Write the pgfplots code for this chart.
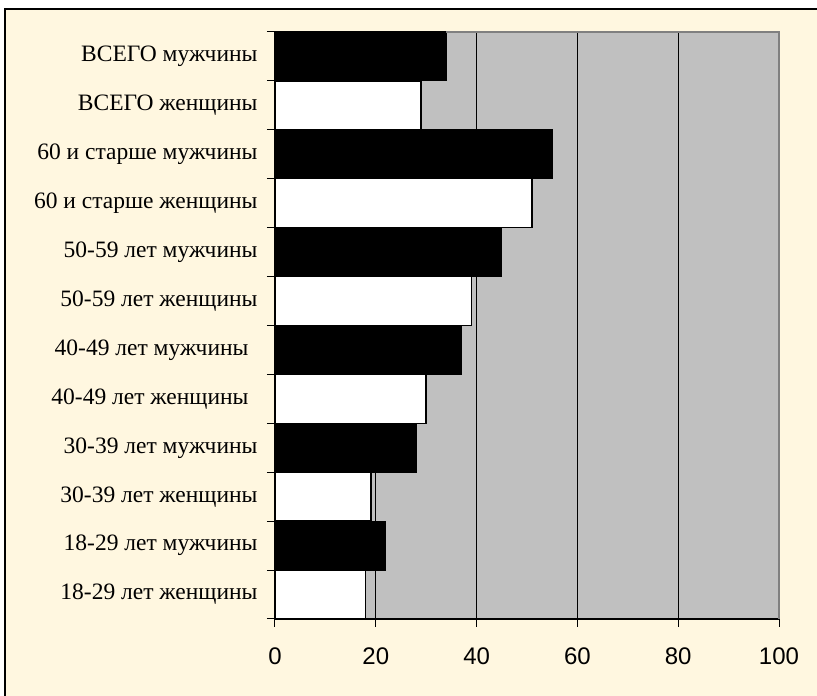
\documentclass[border=0pt]{standalone}
\usepackage{pgfplots}
\pgfplotsset{compat=1.18}
\usepackage{fontspec}
\setmainfont{Liberation Serif}
\newfontfamily\arial{Liberation Sans}
\definecolor{cream}{RGB}{255,247,224}
\definecolor{plotgrey}{RGB}{192,192,192}
\definecolor{shadowgrey}{RGB}{128,128,128}

\begin{document}
\begin{tikzpicture}[x=1pt,y=1pt]
\path[use as bounding box] (0,0) rectangle (817,696);
\fill[white] (0,0) rectangle (817,696);
\fill[cream] (5,0) rectangle (817,687);
\draw[line width=2pt] (5,0) -- (5,687) -- (817,687);
\begin{axis}[
  at={(275pt,77pt)}, anchor=south west,
  scale only axis, width=504pt, height=587pt,
  xmin=0, xmax=100, ymin=0.5, ymax=12.5,
  clip=false,
  axis background/.style={fill=plotgrey},
  axis x line*=bottom, axis y line*=left,
  axis line style={black, line width=1.5pt},
  tick align=outside, major tick length=8pt,
  tick style={black, line width=1pt},
  xtick={0,20,40,60,80,100},
  xmajorgrids, major grid style={black, line width=0.8pt},
  xticklabel style={font=\arial\fontsize{24}{28}\selectfont, yshift=-17pt},
  /pgf/number format/assume math mode=true,
  ytick={0.5,1.5,...,12.5},
  yticklabels={18-29 лет женщины, 18-29 лет мужчины,
    30-39 лет женщины, 30-39 лет мужчины,
    40-49 лет женщины\kern9pt, 40-49 лет мужчины\kern9pt,
    50-59 лет женщины, 50-59 лет мужчины,
    60 и старше женщины, 60 и старше мужчины,
    ВСЕГО женщины, ВСЕГО мужчины, {}},
  yticklabel style={font=\fontsize{23.5}{28}\selectfont, yshift=24.46pt, xshift=-6pt},
]
\addplot[xbar, bar width=1, bar shift=0pt, fill=black, draw=black, line width=1pt]
  coordinates {(34,12) (55,10) (45,8) (37,6) (28,4) (22,2)};
\addplot[xbar, bar width=1, bar shift=0pt, fill=white, draw=black, line width=1.5pt]
  coordinates {(29,11) (51,9) (39,7) (30,5) (19,3) (18,1)};
\draw[shadowgrey, line width=2.5pt] (axis cs:34,12.5) -- (axis cs:100,12.5) -- (axis cs:100,0.5);
\end{axis}
\end{tikzpicture}
\end{document}
